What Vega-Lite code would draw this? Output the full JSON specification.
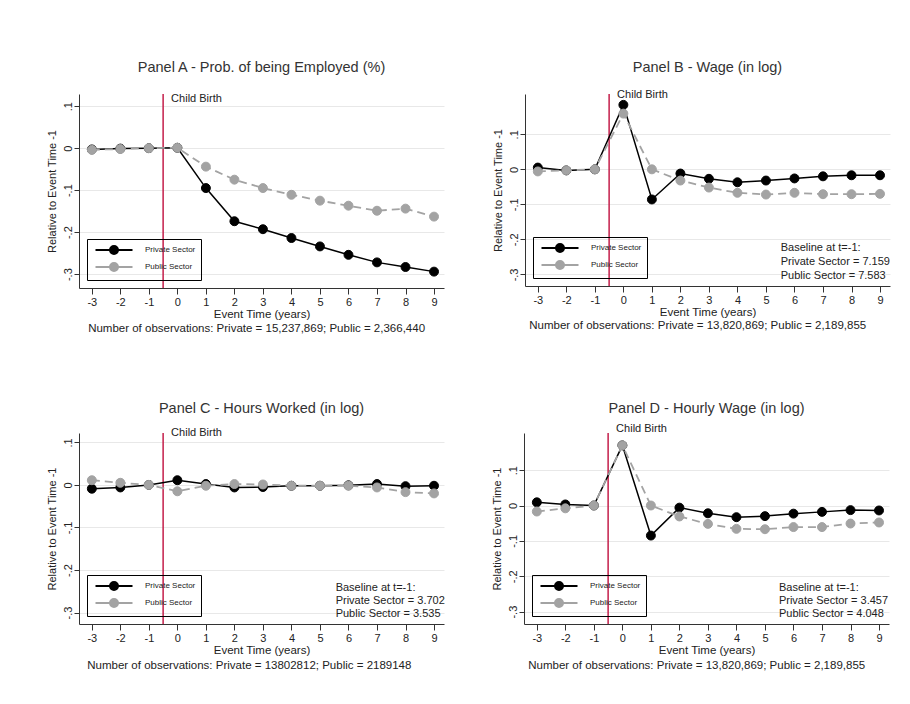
{
  "$schema": "https://vega.github.io/schema/vega-lite/v6.json",
  "background": "white",
  "padding": {"left": 46, "top": 59, "right": 5, "bottom": 5},
  "datasets": {
    "d": [
      {"panel":"A","sector":"Private Sector","t":-3,"v":-0.003},{"panel":"A","sector":"Private Sector","t":-2,"v":-0.001},{"panel":"A","sector":"Private Sector","t":-1,"v":0},{"panel":"A","sector":"Private Sector","t":0,"v":0.001},{"panel":"A","sector":"Private Sector","t":1,"v":-0.095},{"panel":"A","sector":"Private Sector","t":2,"v":-0.174},{"panel":"A","sector":"Private Sector","t":3,"v":-0.193},{"panel":"A","sector":"Private Sector","t":4,"v":-0.214},{"panel":"A","sector":"Private Sector","t":5,"v":-0.234},{"panel":"A","sector":"Private Sector","t":6,"v":-0.254},{"panel":"A","sector":"Private Sector","t":7,"v":-0.272},{"panel":"A","sector":"Private Sector","t":8,"v":-0.283},{"panel":"A","sector":"Private Sector","t":9,"v":-0.294},
      {"panel":"A","sector":"Public Sector","t":-3,"v":-0.004},{"panel":"A","sector":"Public Sector","t":-2,"v":-0.002},{"panel":"A","sector":"Public Sector","t":-1,"v":0},{"panel":"A","sector":"Public Sector","t":0,"v":0.001},{"panel":"A","sector":"Public Sector","t":1,"v":-0.044},{"panel":"A","sector":"Public Sector","t":2,"v":-0.075},{"panel":"A","sector":"Public Sector","t":3,"v":-0.095},{"panel":"A","sector":"Public Sector","t":4,"v":-0.111},{"panel":"A","sector":"Public Sector","t":5,"v":-0.125},{"panel":"A","sector":"Public Sector","t":6,"v":-0.137},{"panel":"A","sector":"Public Sector","t":7,"v":-0.149},{"panel":"A","sector":"Public Sector","t":8,"v":-0.144},{"panel":"A","sector":"Public Sector","t":9,"v":-0.163},
      {"panel":"B","sector":"Private Sector","t":-3,"v":0.005},{"panel":"B","sector":"Private Sector","t":-2,"v":-0.003},{"panel":"B","sector":"Private Sector","t":-1,"v":0},{"panel":"B","sector":"Private Sector","t":0,"v":0.184},{"panel":"B","sector":"Private Sector","t":1,"v":-0.086},{"panel":"B","sector":"Private Sector","t":2,"v":-0.012},{"panel":"B","sector":"Private Sector","t":3,"v":-0.027},{"panel":"B","sector":"Private Sector","t":4,"v":-0.037},{"panel":"B","sector":"Private Sector","t":5,"v":-0.032},{"panel":"B","sector":"Private Sector","t":6,"v":-0.026},{"panel":"B","sector":"Private Sector","t":7,"v":-0.020},{"panel":"B","sector":"Private Sector","t":8,"v":-0.017},{"panel":"B","sector":"Private Sector","t":9,"v":-0.017},
      {"panel":"B","sector":"Public Sector","t":-3,"v":-0.006},{"panel":"B","sector":"Public Sector","t":-2,"v":-0.003},{"panel":"B","sector":"Public Sector","t":-1,"v":0},{"panel":"B","sector":"Public Sector","t":0,"v":0.159},{"panel":"B","sector":"Public Sector","t":1,"v":0.0},{"panel":"B","sector":"Public Sector","t":2,"v":-0.032},{"panel":"B","sector":"Public Sector","t":3,"v":-0.052},{"panel":"B","sector":"Public Sector","t":4,"v":-0.067},{"panel":"B","sector":"Public Sector","t":5,"v":-0.072},{"panel":"B","sector":"Public Sector","t":6,"v":-0.067},{"panel":"B","sector":"Public Sector","t":7,"v":-0.071},{"panel":"B","sector":"Public Sector","t":8,"v":-0.071},{"panel":"B","sector":"Public Sector","t":9,"v":-0.070},
      {"panel":"C","sector":"Private Sector","t":-3,"v":-0.009},{"panel":"C","sector":"Private Sector","t":-2,"v":-0.006},{"panel":"C","sector":"Private Sector","t":-1,"v":0},{"panel":"C","sector":"Private Sector","t":0,"v":0.011},{"panel":"C","sector":"Private Sector","t":1,"v":0.002},{"panel":"C","sector":"Private Sector","t":2,"v":-0.006},{"panel":"C","sector":"Private Sector","t":3,"v":-0.005},{"panel":"C","sector":"Private Sector","t":4,"v":-0.002},{"panel":"C","sector":"Private Sector","t":5,"v":-0.002},{"panel":"C","sector":"Private Sector","t":6,"v":-0.001},{"panel":"C","sector":"Private Sector","t":7,"v":0.002},{"panel":"C","sector":"Private Sector","t":8,"v":-0.003},{"panel":"C","sector":"Private Sector","t":9,"v":-0.002},
      {"panel":"C","sector":"Public Sector","t":-3,"v":0.011},{"panel":"C","sector":"Public Sector","t":-2,"v":0.005},{"panel":"C","sector":"Public Sector","t":-1,"v":0},{"panel":"C","sector":"Public Sector","t":0,"v":-0.015},{"panel":"C","sector":"Public Sector","t":1,"v":-0.002},{"panel":"C","sector":"Public Sector","t":2,"v":0.002},{"panel":"C","sector":"Public Sector","t":3,"v":0.001},{"panel":"C","sector":"Public Sector","t":4,"v":-0.002},{"panel":"C","sector":"Public Sector","t":5,"v":-0.002},{"panel":"C","sector":"Public Sector","t":6,"v":-0.002},{"panel":"C","sector":"Public Sector","t":7,"v":-0.006},{"panel":"C","sector":"Public Sector","t":8,"v":-0.017},{"panel":"C","sector":"Public Sector","t":9,"v":-0.020},
      {"panel":"D","sector":"Private Sector","t":-3,"v":0.009},{"panel":"D","sector":"Private Sector","t":-2,"v":0.003},{"panel":"D","sector":"Private Sector","t":-1,"v":0},{"panel":"D","sector":"Private Sector","t":0,"v":0.170},{"panel":"D","sector":"Private Sector","t":1,"v":-0.085},{"panel":"D","sector":"Private Sector","t":2,"v":-0.006},{"panel":"D","sector":"Private Sector","t":3,"v":-0.022},{"panel":"D","sector":"Private Sector","t":4,"v":-0.033},{"panel":"D","sector":"Private Sector","t":5,"v":-0.030},{"panel":"D","sector":"Private Sector","t":6,"v":-0.023},{"panel":"D","sector":"Private Sector","t":7,"v":-0.018},{"panel":"D","sector":"Private Sector","t":8,"v":-0.013},{"panel":"D","sector":"Private Sector","t":9,"v":-0.014},
      {"panel":"D","sector":"Public Sector","t":-3,"v":-0.017},{"panel":"D","sector":"Public Sector","t":-2,"v":-0.008},{"panel":"D","sector":"Public Sector","t":-1,"v":0},{"panel":"D","sector":"Public Sector","t":0,"v":0.170},{"panel":"D","sector":"Public Sector","t":1,"v":0.0},{"panel":"D","sector":"Public Sector","t":2,"v":-0.031},{"panel":"D","sector":"Public Sector","t":3,"v":-0.052},{"panel":"D","sector":"Public Sector","t":4,"v":-0.066},{"panel":"D","sector":"Public Sector","t":5,"v":-0.067},{"panel":"D","sector":"Public Sector","t":6,"v":-0.061},{"panel":"D","sector":"Public Sector","t":7,"v":-0.061},{"panel":"D","sector":"Public Sector","t":8,"v":-0.051},{"panel":"D","sector":"Public Sector","t":9,"v":-0.048}
    ]
  },
  "vconcat": [
    {
      "resolve": {"legend": {"fill": "independent", "stroke": "independent"}, "scale": {"x": "independent", "y": "independent"}},
      "spacing": 48,
      "hconcat": [
        {
          "title": {"text": "Panel A - Prob. of being Employed (%)", "offset": 18},
          "width": 365, "height": 194,
          "data": {"name": "d"},
          "transform": [{"filter": "datum.panel == 'A'"}],
          "layer": [
            {"data": {"values": [{}]}, "mark": {"type": "rule", "color": "#c41e4a", "strokeWidth": 1.5}, "encoding": {"x": {"datum": -0.5, "type": "quantitative"}}},
            {"transform": [{"filter": "datum.sector == 'Private Sector'"}], "mark": {"type": "line", "color": "black", "strokeWidth": 1.5},
             "encoding": {"x": {"field": "t", "type": "quantitative", "scale": {"domain": [-3.45, 9.35], "nice": false, "zero": false}, "axis": {"values": [-3,-2,-1,0,1,2,3,4,5,6,7,8,9], "tickCount": 20, "title": "Event Time (years)"}},
                          "y": {"field": "v", "type": "quantitative", "scale": {"domain": [-0.333, 0.129], "nice": false, "zero": false}, "axis": {"values": [-0.3,-0.2,-0.1,0,0.1], "tickCount": 20, "title": "Relative to Event Time -1"}}}},
            {"transform": [{"filter": "datum.sector == 'Private Sector'"}], "mark": {"type": "point", "filled": true, "size": 80, "opacity": 1, "strokeWidth": 1},
             "encoding": {"x": {"field": "t", "type": "quantitative"}, "y": {"field": "v", "type": "quantitative"},
                          "fill": {"field": "sector", "type": "nominal", "scale": {"domain": ["Private Sector", "Public Sector"], "range": ["black", "#a3a3a3"]}, "legend": {"title": null, "orient": "bottom-left"}},
                          "stroke": {"field": "sector", "type": "nominal", "scale": {"domain": ["Private Sector", "Public Sector"], "range": ["black", "#a3a3a3"]}, "legend": {"title": null, "orient": "bottom-left"}}}},
            {"transform": [{"filter": "datum.sector == 'Public Sector'"}], "mark": {"type": "line", "color": "#a3a3a3", "strokeWidth": 1.8, "strokeDash": [8, 5]},
             "encoding": {"x": {"field": "t", "type": "quantitative"}, "y": {"field": "v", "type": "quantitative"}}},
            {"transform": [{"filter": "datum.sector == 'Public Sector'"}], "mark": {"type": "point", "filled": true, "size": 80, "opacity": 1, "strokeWidth": 1},
             "encoding": {"x": {"field": "t", "type": "quantitative"}, "y": {"field": "v", "type": "quantitative"},
                          "fill": {"field": "sector", "type": "nominal"}, "stroke": {"field": "sector", "type": "nominal"}}},
            {"data": {"values": [{}]}, "mark": {"type": "text", "text": "Child Birth", "align": "left", "baseline": "middle", "dx": 8, "fontSize": 11, "color": "#222"},
             "encoding": {"x": {"datum": -0.5, "type": "quantitative"}, "y": {"datum": 0.117, "type": "quantitative"}}},
            {"data": {"values": [{}]}, "mark": {"type": "text", "text": "Number of observations: Private = 15,237,869; Public = 2,366,440", "align": "left", "baseline": "middle", "fontSize": 11.5, "color": "#222"},
             "encoding": {"x": {"datum": -3.13, "type": "quantitative"}, "y": {"datum": -0.4295, "type": "quantitative"}}}
          ]
        },
        {
          "title": {"text": "Panel B - Wage (in log)", "offset": 14},
          "width": 365, "height": 192,
          "data": {"name": "d"},
          "transform": [{"filter": "datum.panel == 'B'"}],
          "layer": [
            {"data": {"values": [{}]}, "mark": {"type": "rule", "color": "#c41e4a", "strokeWidth": 1.5}, "encoding": {"x": {"datum": -0.5, "type": "quantitative"}}},
            {"transform": [{"filter": "datum.sector == 'Private Sector'"}], "mark": {"type": "line", "color": "black", "strokeWidth": 1.5},
             "encoding": {"x": {"field": "t", "type": "quantitative", "scale": {"domain": [-3.45, 9.35], "nice": false, "zero": false}, "axis": {"values": [-3,-2,-1,0,1,2,3,4,5,6,7,8,9], "tickCount": 20, "title": "Event Time (years)"}},
                          "y": {"field": "v", "type": "quantitative", "scale": {"domain": [-0.333, 0.215], "nice": false, "zero": false}, "axis": {"values": [-0.3,-0.2,-0.1,0,0.1], "tickCount": 20, "title": "Relative to Event Time -1"}}}},
            {"transform": [{"filter": "datum.sector == 'Private Sector'"}], "mark": {"type": "point", "filled": true, "size": 80, "opacity": 1, "strokeWidth": 1},
             "encoding": {"x": {"field": "t", "type": "quantitative"}, "y": {"field": "v", "type": "quantitative"},
                          "fill": {"field": "sector", "type": "nominal", "scale": {"domain": ["Private Sector", "Public Sector"], "range": ["black", "#a3a3a3"]}, "legend": {"title": null, "orient": "bottom-left"}},
                          "stroke": {"field": "sector", "type": "nominal", "scale": {"domain": ["Private Sector", "Public Sector"], "range": ["black", "#a3a3a3"]}, "legend": {"title": null, "orient": "bottom-left"}}}},
            {"transform": [{"filter": "datum.sector == 'Public Sector'"}], "mark": {"type": "line", "color": "#a3a3a3", "strokeWidth": 1.8, "strokeDash": [8, 5]},
             "encoding": {"x": {"field": "t", "type": "quantitative"}, "y": {"field": "v", "type": "quantitative"}}},
            {"transform": [{"filter": "datum.sector == 'Public Sector'"}], "mark": {"type": "point", "filled": true, "size": 80, "opacity": 1, "strokeWidth": 1},
             "encoding": {"x": {"field": "t", "type": "quantitative"}, "y": {"field": "v", "type": "quantitative"},
                          "fill": {"field": "sector", "type": "nominal"}, "stroke": {"field": "sector", "type": "nominal"}}},
            {"data": {"values": [{}]}, "mark": {"type": "text", "text": "Child Birth", "align": "left", "baseline": "middle", "dx": 8, "fontSize": 11, "color": "#222"},
             "encoding": {"x": {"datum": -0.5, "type": "quantitative"}, "y": {"datum": 0.211, "type": "quantitative"}}},
            {"data": {"values": [{}]}, "mark": {"type": "text", "text": ["Baseline at t=-1:", "Private Sector = 7.159", "Public Sector = 7.583"], "align": "left", "baseline": "top", "lineHeight": 14, "fontSize": 11, "color": "#222"},
             "encoding": {"x": {"datum": 5.52, "type": "quantitative"}, "y": {"datum": -0.206, "type": "quantitative"}}},
            {"data": {"values": [{}]}, "mark": {"type": "text", "text": "Number of observations: Private = 13,820,869; Public = 2,189,855", "align": "left", "baseline": "middle", "fontSize": 11.5, "color": "#222"},
             "encoding": {"x": {"datum": -3.3, "type": "quantitative"}, "y": {"datum": -0.4466, "type": "quantitative"}}}
          ]
        }
      ]
    },
    {
      "resolve": {"legend": {"fill": "independent", "stroke": "independent"}, "scale": {"x": "independent", "y": "independent"}},
      "spacing": 46,
      "hconcat": [
        {
          "title": {"text": "Panel C - Hours Worked (in log)", "offset": 11},
          "width": 365, "height": 191,
          "data": {"name": "d"},
          "transform": [{"filter": "datum.panel == 'C'"}],
          "layer": [
            {"data": {"values": [{}]}, "mark": {"type": "rule", "color": "#c41e4a", "strokeWidth": 1.5}, "encoding": {"x": {"datum": -0.5, "type": "quantitative"}}},
            {"transform": [{"filter": "datum.sector == 'Private Sector'"}], "mark": {"type": "line", "color": "black", "strokeWidth": 1.5},
             "encoding": {"x": {"field": "t", "type": "quantitative", "scale": {"domain": [-3.45, 9.35], "nice": false, "zero": false}, "axis": {"values": [-3,-2,-1,0,1,2,3,4,5,6,7,8,9], "tickCount": 20, "title": "Event Time (years)"}},
                          "y": {"field": "v", "type": "quantitative", "scale": {"domain": [-0.327, 0.122], "nice": false, "zero": false}, "axis": {"values": [-0.3,-0.2,-0.1,0,0.1], "tickCount": 20, "title": "Relative to Event Time -1"}}}},
            {"transform": [{"filter": "datum.sector == 'Private Sector'"}], "mark": {"type": "point", "filled": true, "size": 80, "opacity": 1, "strokeWidth": 1},
             "encoding": {"x": {"field": "t", "type": "quantitative"}, "y": {"field": "v", "type": "quantitative"},
                          "fill": {"field": "sector", "type": "nominal", "scale": {"domain": ["Private Sector", "Public Sector"], "range": ["black", "#a3a3a3"]}, "legend": {"title": null, "orient": "bottom-left"}},
                          "stroke": {"field": "sector", "type": "nominal", "scale": {"domain": ["Private Sector", "Public Sector"], "range": ["black", "#a3a3a3"]}, "legend": {"title": null, "orient": "bottom-left"}}}},
            {"transform": [{"filter": "datum.sector == 'Public Sector'"}], "mark": {"type": "line", "color": "#a3a3a3", "strokeWidth": 1.8, "strokeDash": [8, 5]},
             "encoding": {"x": {"field": "t", "type": "quantitative"}, "y": {"field": "v", "type": "quantitative"}}},
            {"transform": [{"filter": "datum.sector == 'Public Sector'"}], "mark": {"type": "point", "filled": true, "size": 80, "opacity": 1, "strokeWidth": 1},
             "encoding": {"x": {"field": "t", "type": "quantitative"}, "y": {"field": "v", "type": "quantitative"},
                          "fill": {"field": "sector", "type": "nominal"}, "stroke": {"field": "sector", "type": "nominal"}}},
            {"data": {"values": [{}]}, "mark": {"type": "text", "text": "Child Birth", "align": "left", "baseline": "middle", "dx": 8, "fontSize": 11, "color": "#222"},
             "encoding": {"x": {"datum": -0.5, "type": "quantitative"}, "y": {"datum": 0.122, "type": "quantitative"}}},
            {"data": {"values": [{}]}, "mark": {"type": "text", "text": ["Baseline at t=-1:", "Private Sector = 3.702", "Public Sector = 3.535"], "align": "left", "baseline": "top", "lineHeight": 13, "fontSize": 11, "color": "#222"},
             "encoding": {"x": {"datum": 5.55, "type": "quantitative"}, "y": {"datum": -0.228, "type": "quantitative"}}},
            {"data": {"values": [{}]}, "mark": {"type": "text", "text": "Number of observations: Private = 13802812; Public = 2189148", "align": "left", "baseline": "middle", "fontSize": 11.5, "color": "#222"},
             "encoding": {"x": {"datum": -3.16, "type": "quantitative"}, "y": {"datum": -0.426, "type": "quantitative"}}}
          ]
        },
        {
          "title": {"text": "Panel D - Hourly Wage (in log)", "offset": 6},
          "width": 365, "height": 191,
          "data": {"name": "d"},
          "transform": [{"filter": "datum.panel == 'D'"}],
          "layer": [
            {"data": {"values": [{}]}, "mark": {"type": "rule", "color": "#c41e4a", "strokeWidth": 1.5}, "encoding": {"x": {"datum": -0.5, "type": "quantitative"}}},
            {"transform": [{"filter": "datum.sector == 'Private Sector'"}], "mark": {"type": "line", "color": "black", "strokeWidth": 1.5},
             "encoding": {"x": {"field": "t", "type": "quantitative", "scale": {"domain": [-3.45, 9.35], "nice": false, "zero": false}, "axis": {"values": [-3,-2,-1,0,1,2,3,4,5,6,7,8,9], "tickCount": 20, "title": "Event Time (years)"}},
                          "y": {"field": "v", "type": "quantitative", "scale": {"domain": [-0.335, 0.205], "nice": false, "zero": false}, "axis": {"values": [-0.3,-0.2,-0.1,0,0.1], "tickCount": 20, "title": "Relative to Event Time -1"}}}},
            {"transform": [{"filter": "datum.sector == 'Private Sector'"}], "mark": {"type": "point", "filled": true, "size": 80, "opacity": 1, "strokeWidth": 1},
             "encoding": {"x": {"field": "t", "type": "quantitative"}, "y": {"field": "v", "type": "quantitative"},
                          "fill": {"field": "sector", "type": "nominal", "scale": {"domain": ["Private Sector", "Public Sector"], "range": ["black", "#a3a3a3"]}, "legend": {"title": null, "orient": "bottom-left"}},
                          "stroke": {"field": "sector", "type": "nominal", "scale": {"domain": ["Private Sector", "Public Sector"], "range": ["black", "#a3a3a3"]}, "legend": {"title": null, "orient": "bottom-left"}}}},
            {"transform": [{"filter": "datum.sector == 'Public Sector'"}], "mark": {"type": "line", "color": "#a3a3a3", "strokeWidth": 1.8, "strokeDash": [8, 5]},
             "encoding": {"x": {"field": "t", "type": "quantitative"}, "y": {"field": "v", "type": "quantitative"}}},
            {"transform": [{"filter": "datum.sector == 'Public Sector'"}], "mark": {"type": "point", "filled": true, "size": 80, "opacity": 1, "strokeWidth": 1},
             "encoding": {"x": {"field": "t", "type": "quantitative"}, "y": {"field": "v", "type": "quantitative"},
                          "fill": {"field": "sector", "type": "nominal"}, "stroke": {"field": "sector", "type": "nominal"}}},
            {"data": {"values": [{}]}, "mark": {"type": "text", "text": "Child Birth", "align": "left", "baseline": "middle", "dx": 8, "fontSize": 11, "color": "#222"},
             "encoding": {"x": {"datum": -0.5, "type": "quantitative"}, "y": {"datum": 0.217, "type": "quantitative"}}},
            {"data": {"values": [{}]}, "mark": {"type": "text", "text": ["Baseline at t=-1:", "Private Sector = 3.457", "Public Sector = 4.048"], "align": "left", "baseline": "top", "lineHeight": 13, "fontSize": 11, "color": "#222"},
             "encoding": {"x": {"datum": 5.49, "type": "quantitative"}, "y": {"datum": -0.217, "type": "quantitative"}}},
            {"data": {"values": [{}]}, "mark": {"type": "text", "text": "Number of observations: Private = 13,820,869; Public = 2,189,855", "align": "left", "baseline": "middle", "fontSize": 11.5, "color": "#222"},
             "encoding": {"x": {"datum": -3.3, "type": "quantitative"}, "y": {"datum": -0.455, "type": "quantitative"}}}
          ]
        }
      ]
    }
  ],
  "spacing": 65,
  "resolve": {"legend": {"fill": "independent", "stroke": "independent"}, "scale": {"x": "independent", "y": "independent"}},
  "config": {
    "font": "Liberation Sans",
    "view": {"stroke": null},
    "mark": {"clip": false},
    "title": {"fontSize": 14.5, "fontWeight": "normal", "color": "#333", "anchor": "middle"},
    "axis": {"domainColor": "#333", "tickColor": "#333", "labelColor": "#222", "titleColor": "#222", "labelFontSize": 11, "titleFontSize": 11, "titleFontWeight": "normal", "grid": false, "tickSize": 5, "labelOverlap": false},
    "axisX": {"tickSize": 6, "labelPadding": 2, "titlePadding": 1, "titleFontSize": 11.5, "labelExpr": "(datum.value < 0 ? '-' : '') + abs(datum.value)", "labelFlush": false},
    "axisY": {"grid": true, "gridColor": "#e8e8e8", "labelAngle": -90, "labelAlign": "center", "labelBaseline": "bottom", "labelPadding": 1, "titlePadding": 5, "labelExpr": "datum.value == 0 ? '0' : (datum.value < 0 ? '-' : '') + '.' + round(abs(datum.value) * 10)"},
    "legend": {"orient": "bottom-left", "offset": 8, "strokeColor": "black", "padding": 5, "rowPadding": 1, "labelFontSize": 8, "labelColor": "#222", "symbolType": "M-3.7,0L3.7,0M-0.8,0A0.8,0.8,0,1,1,0.8,0A0.8,0.8,0,1,1,-0.8,0Z", "symbolSize": 100, "symbolStrokeWidth": 2, "symbolOffset": 16, "labelOffset": 25}
  }
}
